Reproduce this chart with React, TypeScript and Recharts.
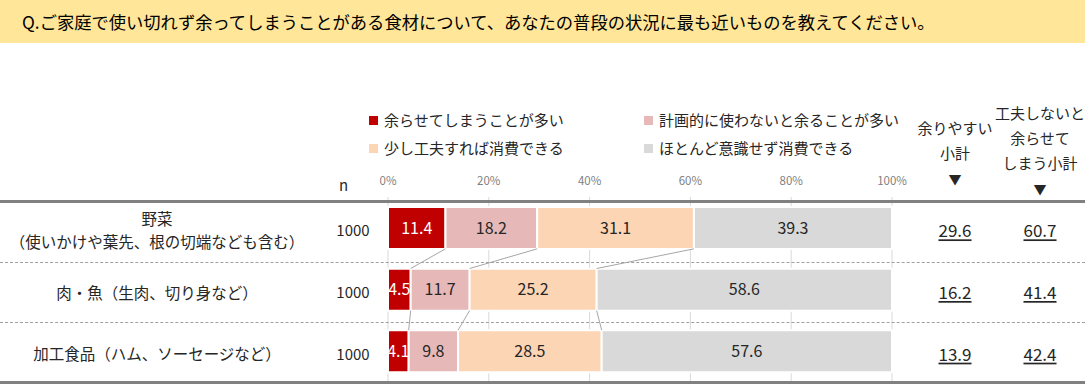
import {
  BarChart,
  Bar,
  XAxis,
  YAxis,
  CartesianGrid,
  Legend,
  LabelList,
  ReferenceLine,
} from "recharts";

// categories and labels
const categories = ["野菜", "肉・魚", "加工食品"];
const categoryLines = [
  ["野菜", "（使いかけや葉先、根の切端なども含む）"],
  ["肉・魚（生肉、切り身など）"],
  ["加工食品（ハム、ソーセージなど）"],
];
const sampleSizes = [1000, 1000, 1000];

// series values (%)
const oftenLeftover = [11.4, 4.5, 4.1];
const leftoverUnlessPlanned = [18.2, 11.7, 9.8];
const usableWithEffort = [31.1, 25.2, 28.5];
const usedWithoutThought = [39.3, 58.6, 57.6];

// subtotals shown on the right
const leftoverSubtotal = [29.6, 16.2, 13.9];
const noEffortSubtotal = [60.7, 41.4, 42.4];

const percentTicks = [0, 20, 40, 60, 80, 100];

const FONT = "'Noto Sans CJK JP', 'Noto Sans', sans-serif";
const WIDTH = 1085;
const HEIGHT = 384;
const TOP = 170;
const X_AXIS_H = 27;
const BOTTOM = 2;
const PLOT_H = HEIGHT - TOP - X_AXIS_H - BOTTOM;
const BAR_SIZE = 42;

const series = [
  { key: "often", name: "余らせてしまうことが多い", color: "#C00000", text: "#ffffff", values: oftenLeftover },
  { key: "planned", name: "計画的に使わないと余ることが多い", color: "#E6B9B8", text: "#262626", values: leftoverUnlessPlanned },
  { key: "effort", name: "少し工夫すれば消費できる", color: "#FCD5B5", text: "#262626", values: usableWithEffort },
  { key: "easy", name: "ほとんど意識せず消費できる", color: "#D9D9D9", text: "#262626", values: usedWithoutThought },
];

// row position (band centre) used by the hidden numeric axis for the connectors
const data = categories.map((name, i) => {
  const row: { [k: string]: string | number } = { name, pos: i + 0.5 };
  series.forEach((s) => {
    row[s.key] = s.values[i];
  });
  return row;
});

// cumulative boundaries of the first three segments for each row
const boundaries = categories.map((_, i) => {
  let acc = 0;
  return series.slice(0, 3).map((s) => {
    acc += s.values[i];
    return acc;
  });
});

// connector segments from the bottom of one bar to the top of the next
const halfBar = BAR_SIZE / 2 / (PLOT_H / categories.length);
const connectors: { x1: number; y1: number; x2: number; y2: number }[] = [];
for (let i = 0; i < categories.length - 1; i++) {
  boundaries[i].forEach((b, k) => {
    connectors.push({
      x1: b,
      y1: i + 0.5 + halfBar,
      x2: boundaries[i + 1][k],
      y2: i + 1.5 - halfBar,
    });
  });
}

function CategoryTick(props: any) {
  const { y, payload } = props;
  const i = categories.indexOf(payload.value);
  const lines = categoryLines[i];
  return (
    <g>
      {lines.map((l, k) => (
        <text
          key={k}
          x={157}
          y={y + 2 + (k - (lines.length - 1) / 2) * 23}
          textAnchor="middle"
          dominantBaseline="central"
          fontSize={15.5}
          fill="#262626"
        >
          {l}
        </text>
      ))}
      <text x={353} y={y + 2} textAnchor="middle" dominantBaseline="central" fontSize={15} fill="#262626">
        {sampleSizes[i]}
      </text>
    </g>
  );
}

function SubtotalTick(props: any) {
  const { y, payload } = props;
  const i = categories.indexOf(payload.value);
  return (
    <g>
      <text
        x={955}
        y={y + 2}
        textAnchor="middle"
        dominantBaseline="central"
        fontSize={17}
        fill="#262626"
        style={{ textDecoration: "underline" }}
      >
        {leftoverSubtotal[i].toFixed(1)}
      </text>
      <text
        x={1040}
        y={y + 2}
        textAnchor="middle"
        dominantBaseline="central"
        fontSize={17}
        fill="#262626"
        style={{ textDecoration: "underline" }}
      >
        {noEffortSubtotal[i].toFixed(1)}
      </text>
    </g>
  );
}

function LegendGrid(props: any) {
  const order = series.map((s) => s.name);
  const items = [...(props.payload || [])].sort(
    (a: any, b: any) => order.indexOf(a.value) - order.indexOf(b.value)
  );
  return (
    <div style={{ display: "grid", gridTemplateColumns: "275px 275px", rowGap: 6 }}>
      {items.map((p: any) => (
        <div key={p.value} style={{ display: "flex", alignItems: "center", fontSize: 15, color: "#262626", lineHeight: "22px" }}>
          <span style={{ width: 9, height: 9, background: p.color, marginRight: 6, display: "inline-block" }} />
          {p.value}
        </div>
      ))}
    </div>
  );
}

const headStyle = {
  position: "absolute" as const,
  fontSize: 15,
  color: "#262626",
  textAlign: "center" as const,
  width: 100,
  lineHeight: "25px",
};

export default function App() {
  return (
    <div
      style={{
        position: "absolute",
        left: 0,
        top: 0,
        width: WIDTH,
        height: HEIGHT,
        background: "#fff",
        fontFamily: FONT,
        overflow: "hidden",
      }}
    >
      <div
        style={{
          position: "absolute",
          left: 0,
          top: 0,
          width: WIDTH,
          height: 43,
          background: "#FFE699",
          fontSize: 17.3,
          lineHeight: "43px",
          paddingLeft: 22,
          color: "#000",
          boxSizing: "border-box",
        }}
      >
        Q.ご家庭で使い切れず余ってしまうことがある食材について、あなたの普段の状況に最も近いものを教えてください。
      </div>

      <BarChart
        width={WIDTH}
        height={HEIGHT}
        data={data}
        layout="vertical"
        margin={{ top: TOP, right: 0, bottom: BOTTOM, left: 0 }}
        style={{ position: "absolute", left: 0, top: 0 }}
      >
        <CartesianGrid horizontal={false} stroke="#d9d9d9" />
        <XAxis
          type="number"
          orientation="top"
          domain={[0, 100]}
          ticks={percentTicks}
          tickFormatter={(v: number) => `${v}%`}
          axisLine={false}
          tickLine={false}
          tickMargin={6}
          height={X_AXIS_H}
          tick={{ fontSize: 11.5, fill: "#7f7f7f" }}
        />
        <YAxis
          yAxisId="cat"
          type="category"
          dataKey="name"
          width={388}
          axisLine={false}
          tickLine={false}
          tick={<CategoryTick />}
        />
        <YAxis
          yAxisId="sub"
          type="category"
          dataKey="name"
          orientation="right"
          width={193}
          axisLine={false}
          tickLine={false}
          tick={<SubtotalTick />}
        />
        <YAxis yAxisId="conn" type="number" dataKey="pos" domain={[0, categories.length]} hide allowDataOverflow />
        <Legend
          layout="horizontal"
          verticalAlign="middle"
          align="center"
          wrapperStyle={{ top: 109, left: 369, width: 560 }}
          content={<LegendGrid />}
        />
        {series.map((s) => (
          <Bar
            key={s.key}
            yAxisId="cat"
            dataKey={s.key}
            name={s.name}
            stackId="s"
            fill={s.color}
            stroke="#ffffff"
            strokeWidth={2}
            barSize={BAR_SIZE}
            isAnimationActive={false}
          >
            <LabelList dataKey={s.key} position="center" fill={s.text} fontSize={16} />
          </Bar>
        ))}
        {connectors.map((c, k) => (
          <ReferenceLine
            key={k}
            yAxisId="conn"
            segment={[
              { x: c.x1, y: c.y1 },
              { x: c.x2, y: c.y2 },
            ]}
            stroke="#a6a6a6"
            strokeWidth={1}
          />
        ))}
      </BarChart>

      <div style={{ position: "absolute", left: 339, top: 174, fontSize: 15, color: "#262626" }}>n</div>

      <div style={{ ...headStyle, left: 905, top: 115 }}>
        余りやすい
        <br />
        小計
        <br />
        <span style={{ fontSize: 13 }}>▼</span>
      </div>
      <div style={{ ...headStyle, left: 990, top: 100 }}>
        工夫しないと
        <br />
        余らせて
        <br />
        しまう小計
        <br />
        <span style={{ fontSize: 13 }}>▼</span>
      </div>

      <div style={{ position: "absolute", left: 0, top: 200, width: WIDTH, height: 3, background: "#808080" }} />
      <div style={{ position: "absolute", left: 0, top: 262, width: WIDTH, borderTop: "1px dashed #a0a0a0" }} />
      <div style={{ position: "absolute", left: 0, top: 322, width: WIDTH, borderTop: "1px dashed #a0a0a0" }} />
      <div style={{ position: "absolute", left: 0, top: 381, width: WIDTH, height: 3, background: "#808080" }} />
    </div>
  );
}
